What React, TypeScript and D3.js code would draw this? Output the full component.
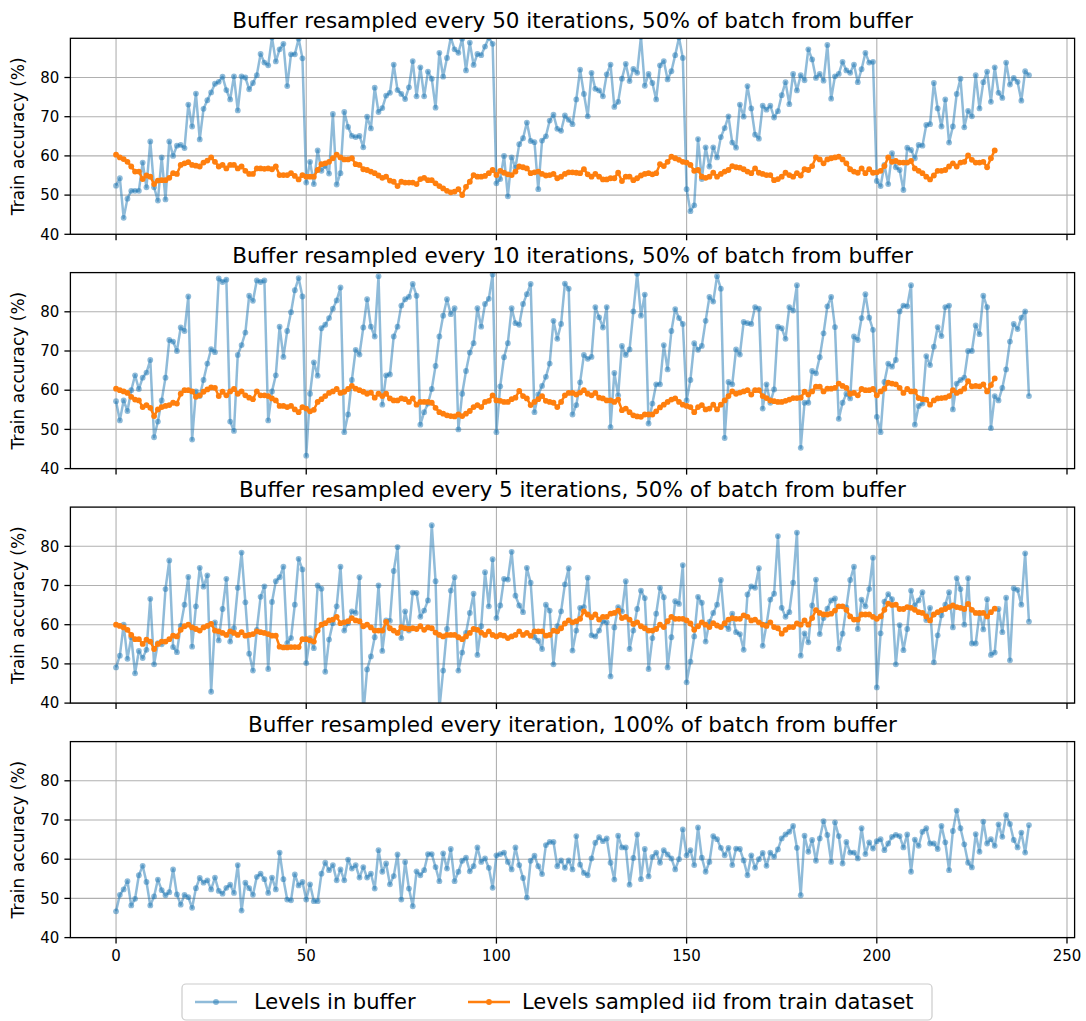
import React from 'react';
import * as d3 from 'd3';

// Panel 1: resampled every 50 iterations
const blue1 = [
  52.4, 54.3, 44.2, 49.1, 51.1, 51.1, 51.1, 58.3, 52, 63.7,
  52, 48.6, 59.6, 48.9, 63.7, 60, 62.6, 62.8, 62, 73.1,
  67.5, 75.9, 64.2, 72, 74.2, 76.2, 78.4, 78.9, 80.2, 76.8,
  74.4, 80.3, 71.6, 80.3, 80, 77, 78.6, 80.6, 86, 83.8,
  83.1, 90.2, 84.1, 87.2, 88.6, 77.8, 85.9, 85.9, 89.9, 84.9,
  53.2, 58.5, 52.8, 61.4, 56.2, 57.5, 55.5, 70.7, 52.7, 55.6,
  71.2, 67.4, 65.1, 64.8, 65.1, 62.2, 70, 67, 77.4, 71.2,
  72.2, 75.4, 76.1, 83.3, 76.8, 75.8, 74.5, 77.5, 84.2, 75.2,
  82.6, 75.2, 81.5, 79.7, 72.3, 86.3, 80.2, 85, 90.2, 87.2,
  86.3, 89.9, 81.8, 88.9, 83.2, 86, 85.7, 87.9, 90.2, 88.6,
  53, 54.1, 60, 49.7, 59.6, 57, 63, 64.5, 68.5, 63.8,
  63.5, 51.5, 63.9, 65, 69, 70.5, 66.9, 66.4, 70.3, 69.2,
  68.1, 74.4, 82, 75.8, 70.1, 81.2, 77.1, 76.7, 75.2, 80.8,
  83.3, 72.5, 73.8, 79.7, 83.5, 79.1, 82.2, 81.2, 90.4, 77.9,
  80.9, 78.6, 74.4, 83.1, 84.2, 79.5, 81.6, 85.7, 90.2, 85,
  51.5, 45.9, 47.4, 64.3, 54.1, 62.2, 57.3, 62.2, 59.6, 64.8,
  67.1, 70.1, 63.4, 62.1, 73.1, 70, 77.8, 72.1, 65.4, 64.4,
  72.8, 71.8, 72.8, 69.8, 71.4, 75.5, 78.8, 73.2, 80.9, 76.7,
  80.6, 79.3, 87.2, 84.6, 79.9, 80.9, 79.2, 88.3, 74.6, 80.3,
  80.9, 84, 81.8, 81.2, 83.3, 78.8, 82.1, 86.3, 83.8, 84,
  53.6, 52.3, 57.7, 52.8, 60.7, 57.1, 56.4, 51.3, 62.1, 61.5,
  59.4, 62.8, 62.6, 67.9, 68.1, 78.6, 72.1, 67.5, 74.4, 63.4,
  67.5, 75.8, 79.7, 67.3, 71.5, 70.1, 80.6, 72.1, 78.8, 81.5,
  73.8, 82.6, 76.1, 74.8, 83.8, 78.2, 79.9, 78.9, 74.1, 81.6,
  80.6,
];
const orange1 = [
  60.3, 59.6, 59.2, 58.5, 57.3, 56, 56, 54.1, 55, 54.7,
  52.8, 53.7, 53.8, 53.8, 54.4, 55.6, 55.4, 57.7, 58.1, 58.4,
  57.7, 57.5, 57.3, 58.3, 58.8, 59.6, 58.5, 57.3, 57.7, 56.8,
  57.7, 57.7, 56.8, 57.3, 56.2, 55.4, 55.4, 56.8, 56.8, 56.7,
  56.8, 56.6, 57.3, 55.1, 55.1, 55.1, 55.6, 54.9, 54, 55.1,
  54.7, 54.7, 54.7, 56.4, 57.9, 58.1, 58.5, 59.4, 60.3, 59.6,
  59.1, 59.1, 59.4, 57.9, 57.7, 56.6, 56.4, 56, 55.6, 55,
  54.4, 54.7, 53.7, 53.4, 52.3, 53.4, 53.2, 53.2, 53.2, 52.8,
  54.1, 54.4, 53.8, 53.8, 53, 52.3, 51.7, 51.1, 50.7, 50.9,
  51.5, 50, 52.1, 53.4, 55.1, 54.7, 54.7, 54.9, 55.6, 56.4,
  55.1, 56.2, 55.7, 55.3, 55.1, 56, 57.3, 57.1, 56.8, 55.6,
  55.8, 56, 55.4, 55, 55.1, 55.4, 54.3, 54.7, 55.4, 55.8,
  55.8, 55.7, 55.6, 56.6, 55.3, 54.7, 55.4, 54.7, 54, 54,
  54.3, 54.3, 55.7, 53.6, 54.7, 54.7, 53.8, 54.3, 55, 55.4,
  55.6, 55.3, 55.6, 57.9, 57.4, 58.5, 59.8, 59.4, 59, 58.5,
  58.3, 57.7, 56.2, 56.4, 54.7, 54.4, 54.7, 55.7, 54.7, 55.4,
  56, 56.4, 57.4, 57.1, 57, 56.6, 56, 55.6, 56.8, 55.7,
  55.4, 55.1, 55.1, 53.8, 54.1, 54.7, 55.7, 55.1, 54.7, 55.6,
  55, 56.6, 56.4, 57.4, 59.6, 59.1, 58.1, 59.1, 59.4, 59.6,
  59.8, 59.1, 58.1, 56.6, 56, 55.7, 56.8, 55.6, 56.6, 55.7,
  55.8, 56.2, 57.4, 59.6, 58.5, 58.7, 58.3, 58.3, 58.3, 58.7,
  56.8, 56.2, 55.6, 54.7, 54, 55, 56.2, 56.2, 56.4, 57.3,
  58.1, 57.3, 58.3, 58.5, 60.1, 59, 58.3, 58.3, 58.5, 57.1,
  59.4, 61.4,
];

// Panel 2: resampled every 10 iterations
const blue2 = [
  57.2, 52.3, 57.4, 54.7, 60, 63.8, 60.3, 63.2, 64.5, 67.7,
  48, 52, 57.4, 63.2, 72.8, 72.4, 70, 76, 75.1, 83.9,
  47.4, 59.7, 58.5, 62.6, 66.8, 70.5, 69.7, 88.5, 87.6, 88.2,
  52, 49.6, 69, 71.5, 74.7, 84.1, 82.8, 88, 87.6, 88,
  52.3, 59.7, 63.8, 76.2, 68.5, 75.1, 79.9, 85.5, 88.6, 83.9,
  43.3, 59.1, 67.1, 63.7, 75.8, 76.7, 78.4, 80.8, 82.9, 86.2,
  49.3, 53.8, 62.6, 70.3, 69.1, 76, 83.2, 76.2, 73.7, 89.1,
  56.3, 63.8, 64, 73.7, 76.2, 81.6, 83.2, 83.8, 87.1, 84.1,
  51.2, 54.4, 56.6, 60.3, 66.2, 73.7, 79, 83.2, 79.4, 80.9,
  50, 59.1, 64.9, 69.6, 72, 80.9, 76.2, 82, 83.3, 89.5,
  49.3, 61, 68.4, 72, 80.9, 77.1, 76.7, 82, 84.5, 87.1,
  54.4, 58.9, 61.1, 63.4, 66.8, 77.7, 73.1, 76.9, 87.2, 85.9,
  53.8, 56.2, 62, 69, 68, 68.5, 81.2, 78.6, 76, 81.2,
  50.6, 64.4, 58.7, 71.3, 69, 70.4, 80.1, 89.7, 79, 84.4,
  51.5, 56.6, 61.5, 61.5, 71.5, 65.3, 75.1, 80.7, 78.4, 76.9,
  57.4, 62.6, 72, 70.3, 71.3, 77.7, 83.8, 82.6, 89.1, 85.9,
  47.8, 62.1, 61.5, 70.4, 69.1, 77.4, 77.1, 76.9, 81.2, 80.8,
  55.3, 61.5, 56.8, 60.2, 76.2, 75.8, 73.1, 81.2, 80.3, 86.8,
  45.3, 56.8, 56.8, 64.9, 64.3, 68.4, 74.5, 81.4, 83.8, 76.1,
  52.7, 56.8, 59.1, 57.9, 73.7, 72.8, 78.4, 84.5, 78.5, 75.4,
  53.2, 49.3, 62.1, 66.8, 66, 67.7, 80.1, 81.6, 81.4, 86.8,
  51.2, 56, 56.6, 68.7, 66.4, 71.1, 76.1, 73.8, 81.2, 81.6,
  55.1, 61.7, 62.6, 63.2, 70, 70, 76.5, 74.3, 84.1, 81.2,
  50.3, 58.5, 57.4, 60.6, 65.3, 72.4, 76.9, 75.6, 78.5, 80.1,
  58.5,
];
const orange2 = [
  60.4, 60, 59.7, 59.3, 58.3, 57.6, 57.4, 55.7, 56.2, 55.5,
  53.4, 55.1, 55.7, 56, 56.2, 56.8, 56.6, 59.1, 60, 60,
  59.7, 58.3, 58.7, 59.6, 60.2, 60.7, 60.6, 58.5, 59.6, 58.7,
  59.7, 60.3, 59.1, 59.7, 58.7, 58.1, 57.7, 59.7, 58.7, 58.7,
  58.5, 57.9, 57.4, 56, 56, 55.7, 56, 55.1, 54.4, 55.7,
  55.3, 54.6, 55, 57, 57.7, 58.5, 59.3, 59.7, 60.3, 59.3,
  59.6, 60.3, 61.1, 60.4, 60, 59.6, 59.1, 59.4, 58.1, 59.1,
  58.5, 59.1, 57.9, 57.4, 57.4, 57.9, 57.7, 57, 57.9, 56.3,
  57, 57, 57, 56.8, 55.5, 54.4, 54, 53.6, 53.4, 53.3,
  53.8, 53.4, 54, 54.7, 55.7, 56.2, 55.7, 57, 57.3, 58.7,
  57.4, 57.3, 57, 57, 57.7, 58.1, 59.8, 58.5, 57.9, 56.2,
  57, 57.7, 58.5, 57.3, 57, 56.8, 55.7, 57, 58.7, 59.3,
  59.3, 58.9, 59.4, 60, 59.1, 58.7, 59.3, 58.1, 57.9, 57.4,
  57.4, 57, 57.6, 54.9, 55.3, 54.4, 53.6, 53.3, 53.2, 53.8,
  53.8, 53.8, 54.6, 55.6, 56.3, 57, 57.6, 57.9, 57, 56.3,
  56, 55.7, 54.4, 55.7, 56.2, 55.1, 55.3, 56.3, 55.1, 56.3,
  57.4, 58.5, 59.7, 59.1, 59.4, 59.7, 60, 58.9, 60, 60,
  58.5, 58, 57.4, 57.2, 57, 57, 57.3, 57.6, 58, 58,
  58.1, 59.6, 58.9, 59.7, 60.9, 60.9, 59.7, 60.4, 60.4, 60.6,
  61.7, 61.1, 60.6, 59.1, 59.3, 58.7, 60.3, 60, 60, 60.3,
  58.7, 59.7, 60.4, 61.9, 61.7, 61.5, 60.6, 59.3, 60.3, 59.7,
  59.7, 58, 57.7, 57.6, 56.3, 57.4, 57.9, 58, 58.1, 58.5,
  60, 59.3, 59.7, 60.4, 62.3, 61, 61.1, 61, 61.5, 59.7,
  61.3, 63,
];

// Panel 3: resampled every 5 iterations
const blue3 = [
  49.1, 52.1, 60, 51.3, 56.8, 47.6, 53.3, 51.5, 53.6, 66.6,
  49.9, 55.3, 55, 69.1, 76.4, 54.3, 53, 59.7, 65.1, 72.2,
  54.4, 64.7, 74.5, 69.7, 72.6, 42.9, 60.6, 56, 64, 71.7,
  55.7, 59.1, 69.4, 78.4, 65.7, 52.6, 48.3, 58.7, 67.1, 69.8,
  48.7, 65.8, 71.1, 72.1, 74.8, 55.3, 56.6, 65.1, 76.8, 74.1,
  50.2, 56.6, 54, 70, 69.2, 48, 56.2, 60.4, 64.7, 74.8,
  58.5, 60.4, 63.4, 63, 72.1, 37, 48.6, 51.9, 56.8, 70,
  53.3, 61.1, 61, 73.7, 79.8, 56.6, 63.4, 58.5, 68.2, 68.1,
  62, 63.6, 66.2, 85.4, 71.1, 38.5, 48.3, 58.9, 68.7, 72.1,
  48.3, 52.9, 57.9, 63, 67.9, 52.3, 59.6, 73.4, 64.7, 76.7,
  61.7, 64.9, 71.7, 71.5, 78.6, 67.4, 64.9, 63.2, 74.5, 70.7,
  56.8, 55.9, 53.8, 65.1, 63.6, 49.9, 59.6, 63.4, 70.3, 74.4,
  53.4, 58.5, 64.3, 64.5, 72, 57.3, 57, 58.5, 60.9, 60.6,
  46.8, 59.3, 64.5, 63.4, 71.1, 53.8, 58.5, 64, 68.7, 66.8,
  48.7, 56.6, 62.8, 69.4, 67, 49.1, 56.8, 66, 65.3, 75.2,
  45.3, 50.6, 57, 67.1, 65.6, 55.7, 60.7, 63, 65.1, 71.4,
  60, 58.9, 62.8, 58.1, 57.6, 53.6, 67.7, 69.8, 69.4, 74.4,
  54.6, 60, 66.4, 67.9, 82.6, 64.3, 62, 63.2, 70.7, 83.5,
  52.1, 57.8, 55.5, 64.9, 71.5, 57.6, 61.7, 64.1, 66.2, 66.7,
  53.8, 57.7, 64.4, 71.4, 74.8, 58.9, 66.4, 64.7, 69.1, 77.1,
  44, 57.8, 65.9, 67.8, 66.5, 49.9, 59.9, 53.5, 58.9, 68.7,
  64.9, 66.2, 68.3, 61.2, 64.3, 50.4, 57.3, 62.4, 65.1, 68.3,
  59.3, 71.9, 69.1, 60, 71.9, 55.2, 55.2, 62.9, 58.8, 66.5,
  52.3, 52.9, 64, 58.1, 66.9, 50.9, 69.3, 68.9, 65.1, 78.2,
  60.8,
];
const orange3 = [
  60, 59.7, 59.3, 58.7, 57.4, 56.3, 56.3, 55.1, 56.2, 55.7,
  53.8, 55.1, 55.7, 55.7, 56.3, 57.2, 57, 58.7, 59.6, 60,
  59.3, 58.9, 58.5, 59.3, 59.7, 60.2, 58.5, 58.3, 57.9, 57.4,
  58.3, 57.9, 57.4, 58.1, 57.2, 57.4, 57.6, 58.3, 58.1, 57.9,
  57.6, 57.2, 57.2, 54.4, 54.2, 54.2, 54.3, 54.3, 54.3, 56.3,
  56.3, 56, 55.7, 58.5, 60, 60.4, 61.1, 61.3, 62, 60.4,
  60.6, 60.9, 61.7, 61.1, 60.9, 59.6, 60, 59.3, 58.5, 58.5,
  58.5, 60.7, 59.1, 58.5, 57.9, 59.4, 59.1, 58.9, 59.1, 58.9,
  59.6, 58.7, 59.3, 59.1, 58, 57.4, 57, 57.4, 57.4, 57.4,
  56.8, 56.3, 57, 57.9, 58.9, 58.7, 58, 57.4, 58.3, 57.4,
  57, 57.4, 57.2, 56.6, 57, 57.4, 58.3, 57.4, 57.9, 57.2,
  58.3, 58.3, 58.3, 57.2, 57.4, 58.5, 58.3, 59.1, 60.3, 61.1,
  60.6, 60.9, 61.5, 63.4, 62.6, 61.9, 62.6, 61.3, 62, 62,
  62.8, 63, 63.6, 61.7, 62, 61.3, 60.2, 60.6, 59.6, 59.1,
  58.5, 58.5, 58.9, 60, 59.4, 60.9, 62, 61.5, 61.5, 61.5,
  61.1, 60.3, 58.7, 59.6, 60.6, 60, 59.4, 60.4, 59.8, 59.4,
  60.4, 61.3, 61.7, 61.5, 61.5, 62.4, 62, 61.1, 61.3, 60.6,
  60, 59.7, 60.6, 59.4, 59.1, 57.7, 58.7, 59.4, 59.4, 60.3,
  60, 61.1, 60, 61.7, 63.7, 63, 62.6, 62.6, 62.8, 63.6,
  64.7, 64.7, 63.8, 62.1, 61.3, 61.3, 62.6, 62.6, 62.6, 62,
  61.5, 62.1, 63.8, 65.4, 65, 65.1, 64, 64, 64.5, 64.3,
  63.8, 63.2, 63, 62.1, 61.1, 62.6, 63.2, 63.7, 64, 64.5,
  64.9, 64.5, 64.3, 64, 65.3, 63.8, 63, 63, 63, 62.1,
  63.2, 64.1,
];

// Panel 4: resampled every iteration, only buffer levels
const blue4 = [
  46.7, 50.9, 52.3, 54.4, 48.2, 49.9, 55.9, 58.3, 54.2, 48.2,
  50.5, 54.8, 52.1, 50.8, 51.6, 57.4, 51, 48.4, 50.9, 50.3,
  47.6, 52.6, 55.2, 54, 54.6, 52.3, 55.3, 51.9, 51.2, 52.7,
  53.5, 51.4, 58.5, 46.9, 54, 52.6, 50.9, 55.5, 56.3, 54.9,
  51.4, 55.3, 52.3, 61.7, 54.9, 49.7, 49.5, 56.1, 53.3, 54.2,
  49.7, 53.6, 49.3, 49.3, 56.3, 59.1, 57.2, 58.5, 54.6, 57.4,
  54.6, 59.9, 57.6, 58.5, 55.3, 58, 55.3, 56.3, 52.5, 62.3,
  56.8, 58.9, 53.6, 55.7, 61.2, 49.7, 59.3, 52.5, 48, 56.9,
  55.9, 57.2, 61.3, 61.3, 58, 54.4, 61.5, 57.6, 62.6, 54.4,
  56.8, 59.6, 60.4, 56.9, 58.2, 63, 59.3, 60.2, 57.8, 52.7,
  61, 61.3, 61.7, 59.3, 57.4, 63, 58.5, 55.2, 50.2, 59.6,
  60.9, 58.2, 56.2, 63.6, 64.4, 64.4, 58.2, 59.7, 57.8, 59.7,
  57.4, 65.9, 58.6, 56.5, 55.9, 60.2, 64.2, 65.6, 64.6, 65.3,
  59.1, 54.8, 66, 63, 63, 53.5, 60.3, 66.3, 54.9, 62.6,
  55.6, 60.6, 61.7, 59.1, 62.3, 61.2, 60.2, 57.4, 60, 67.6,
  61, 62.3, 58.5, 68.1, 60.4, 56.8, 59.3, 65.9, 65.1, 62.9,
  61, 62.9, 58.5, 62.7, 62.6, 59.7, 55.9, 61, 57.8, 60,
  61.6, 58.3, 61.7, 60.6, 62.5, 65.3, 66.3, 67, 68.5, 62.9,
  50.8, 66, 61.9, 64.9, 59.6, 65.3, 69.7, 66.2, 59.3, 69.4,
  65.9, 58.9, 64.4, 61.7, 61.7, 60.2, 67.9, 61.3, 64.3, 62.7,
  64.6, 65.1, 62.3, 64, 65.7, 66.2, 65.9, 63, 66.3, 56.8,
  65, 63.4, 67, 67.9, 64, 64, 62.6, 68.5, 64.3, 57.2,
  67.2, 72.4, 67.9, 63.8, 59.1, 57.9, 66.4, 61.9, 69.6, 64,
  65.1, 63.4, 68.9, 65.7, 71.3, 69, 64.9, 63, 66.8, 61.7,
  68.7,
];

const titles = [
  'Buffer resampled every 50 iterations, 50% of batch from buffer',
  'Buffer resampled every 10 iterations, 50% of batch from buffer',
  'Buffer resampled every 5 iterations, 50% of batch from buffer',
  'Buffer resampled every iteration, 100% of batch from buffer',
];
const blueSeries = [blue1, blue2, blue3, blue4];
const orangeSeries: (number[] | null)[] = [orange1, orange2, orange3, null];
const yTicks = [40, 50, 60, 70, 80];
const xTicks = [0, 50, 100, 150, 200, 250];
const legendLabels = ['Levels in buffer', 'Levels sampled iid from train dataset'];

const BLUE = '#1f77b4';
const ORANGE = '#ff7f0e';
const FONT = '"DejaVu Sans", sans-serif';

const W = 1086;
const H = 1021;
const LEFT = 70.4;
const RIGHT = 1074.6;
const PANEL_H = 196;
const TOPS = [38.3, 272.6, 507.1, 741.6];

const x = d3.scaleLinear().domain([-12, 252]).range([LEFT, RIGHT]);

function Panel({ idx }: { idx: number }) {
  const top = TOPS[idx];
  const bottom = top + PANEL_H;
  const y = d3.scaleLinear().domain([40, 90]).range([bottom, top]);
  const line = d3.line<number>().x((_, i) => x(i)).y(d => y(d));
  const blue = blueSeries[idx];
  const orange = orangeSeries[idx];
  const clipId = `clip-${idx}`;
  const isLast = idx === 3;

  return (
    <g>
      <defs>
        <clipPath id={clipId}>
          <rect x={LEFT} y={top} width={RIGHT - LEFT} height={PANEL_H} />
        </clipPath>
      </defs>
      {/* grid */}
      {xTicks.map(t => (
        <line key={'gx' + t} x1={x(t)} x2={x(t)} y1={top} y2={bottom} stroke="#b0b0b0" strokeWidth={1.1} />
      ))}
      {yTicks.map(t => (
        <line key={'gy' + t} x1={LEFT} x2={RIGHT} y1={y(t)} y2={y(t)} stroke="#b0b0b0" strokeWidth={1.1} />
      ))}
      <g clipPath={`url(#${clipId})`}>
        <path d={line(blue) || ''} fill="none" stroke={BLUE} strokeOpacity={0.5} strokeWidth={2.5} strokeLinejoin="round" />
        {blue.map((v, i) => (
          <circle key={'b' + i} cx={x(i)} cy={y(v)} r={2.9} fill={BLUE} fillOpacity={0.5} />
        ))}
        {orange && (
          <>
            <path d={line(orange) || ''} fill="none" stroke={ORANGE} strokeWidth={2.5} strokeLinejoin="round" />
            {orange.map((v, i) => (
              <circle key={'o' + i} cx={x(i)} cy={y(v)} r={2.9} fill={ORANGE} />
            ))}
          </>
        )}
      </g>
      {/* spines */}
      <rect x={LEFT} y={top} width={RIGHT - LEFT} height={PANEL_H} fill="none" stroke="#000" strokeWidth={1.3} />
      {/* y ticks */}
      {yTicks.map(t => (
        <g key={'yt' + t}>
          <line x1={LEFT - 6} x2={LEFT} y1={y(t)} y2={y(t)} stroke="#000" strokeWidth={1.3} />
          <text x={LEFT - 11} y={y(t)} dy="0.35em" textAnchor="end" fontSize={15} fontFamily={FONT} fill="#000">
            {t}
          </text>
        </g>
      ))}
      {/* x ticks */}
      {xTicks.map(t => (
        <g key={'xt' + t}>
          <line x1={x(t)} x2={x(t)} y1={bottom} y2={bottom + 6} stroke="#000" strokeWidth={1.3} />
          {isLast && (
            <text x={x(t)} y={bottom + 23} textAnchor="middle" fontSize={15} fontFamily={FONT} fill="#000">
              {t}
            </text>
          )}
        </g>
      ))}
      <text x={(LEFT + RIGHT) / 2} y={top - 10} textAnchor="middle" fontSize={21.5} fontFamily={FONT} fill="#000">
        {titles[idx]}
      </text>
      <text
        transform={`translate(24, ${(top + bottom) / 2}) rotate(-90)`}
        textAnchor="middle"
        fontSize={17}
        fontFamily={FONT}
        fill="#000"
      >
        Train accuracy (%)
      </text>
    </g>
  );
}

export default function App() {
  const legendY = 1002;
  return (
    <div style={{ position: 'absolute', left: 0, top: 0 }}>
      <svg width={W} height={H} style={{ display: 'block', background: '#fff' }}>
        {TOPS.map((_, i) => (
          <Panel key={i} idx={i} />
        ))}
        <rect x={182} y={984} width={750} height={36} rx={4} fill="#fff" stroke="#cccccc" strokeWidth={1.2} />
        <line x1={195} x2={237} y1={legendY} y2={legendY} stroke={BLUE} strokeOpacity={0.5} strokeWidth={2.5} />
        <circle cx={216} cy={legendY} r={2.9} fill={BLUE} fillOpacity={0.5} />
        <text x={254} y={legendY} dy="0.35em" fontSize={21} fontFamily={FONT}>{legendLabels[0]}</text>
        <line x1={468} x2={510} y1={legendY} y2={legendY} stroke={ORANGE} strokeWidth={2.5} />
        <circle cx={489} cy={legendY} r={2.9} fill={ORANGE} />
        <text x={522} y={legendY} dy="0.35em" fontSize={21} fontFamily={FONT}>{legendLabels[1]}</text>
      </svg>
    </div>
  );
}
